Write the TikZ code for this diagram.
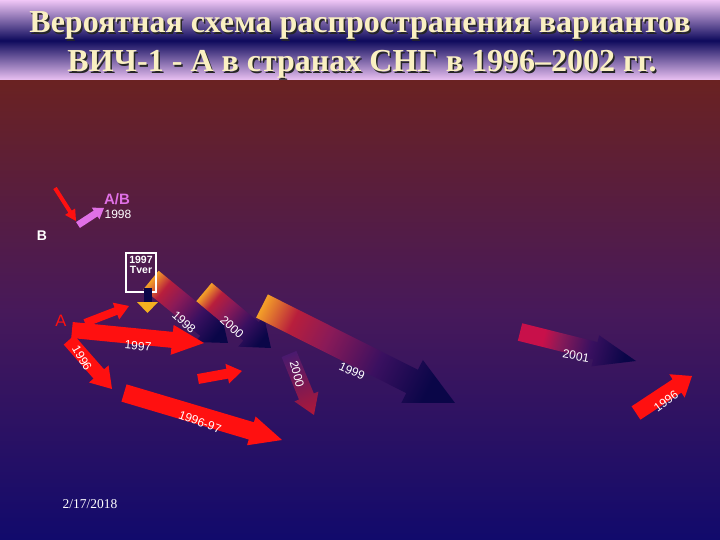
\documentclass[tikz,border=0pt]{standalone}
\usepackage{fontspec}
\setmainfont{Liberation Serif}
\setsansfont{Liberation Sans}
\definecolor{titlepink}{HTML}{F0C6F6}
\definecolor{titlenavy}{HTML}{0E0A5C}
\definecolor{bgtop}{HTML}{6A2222}
\definecolor{bgmid}{HTML}{47195A}
\definecolor{bgbot}{HTML}{110A6C}
\definecolor{titletext}{HTML}{FAF0C2}
\definecolor{gorange}{HTML}{F4A028}
\definecolor{gyellow}{HTML}{F4B020}
\definecolor{gred2}{HTML}{B81E3C}
\definecolor{gmag}{HTML}{8A1A58}
\definecolor{gpurp2}{HTML}{3A1060}
\definecolor{gnavy}{HTML}{0A0648}
\definecolor{gcrim}{HTML}{C8104A}
\definecolor{gpurp}{HTML}{4A1A6E}
\definecolor{gred}{HTML}{B01838}
\definecolor{abpink}{HTML}{E070E6}
\definecolor{ared}{HTML}{FF1010}
\pgfdeclarehorizontalshading{warmsh}{100bp}{color(0bp)=(gorange); color(25bp)=(gorange); color(33bp)=(gred2); color(42bp)=(gmag); color(55bp)=(gpurp2); color(68bp)=(gnavy); color(100bp)=(gnavy)}
\pgfdeclarehorizontalshading{crimsh}{100bp}{color(0bp)=(gcrim); color(25bp)=(gcrim); color(35bp)=(gcrim); color(42bp)=(gmag); color(55bp)=(gpurp2); color(70bp)=(gnavy); color(100bp)=(gnavy)}
\newcommand\fatarr[8]{%
 \pgfmathsetmacro\faang{atan2(#2-#4,#3-#1)}%
 \pgfmathsetmacro\falen{veclen(#3-#1,#4-#2)}%
 \pgfmathsetmacro\fabase{\falen-#7}%
 \begin{scope}[transform canvas={shift={(#1,-#2)},rotate=\faang}]
 \path[#8] (0,-#5) -- (\fabase,-#5) -- (\fabase,-#6) -- (\falen,0) -- (\fabase,#6) -- (\fabase,#5) -- (0,#5) -- cycle;
 \end{scope}}
\tikzset{
 redarrow/.style={fill=ared},
 warm/.style={shade,shading=warmsh},
 lbl/.style={text=white,font=\sffamily\fontsize{12}{13}\selectfont,inner sep=0pt},
 ttl/.style={font=\bfseries\fontsize{32}{36}\selectfont,inner sep=0pt,anchor=base},
}
\begin{document}
\begin{tikzpicture}[x=1pt,y=1pt]
\useasboundingbox (0,0) rectangle (720,-540);
% background
\shade[top color=titlepink,bottom color=titlepink,middle color=titlenavy] (0,0) rectangle (720,-81);
\shade[top color=bgtop,bottom color=bgbot,middle color=bgmid] (0,-81) rectangle (720,-540);
% title
\node[ttl,text=black!85] at (361.5,-34.5) {Вероятная схема распространения вариантов};
\node[ttl,text=titletext] (t1) at (360,-33) {Вероятная схема распространения вариантов};
\node[ttl,text=black!85] at (363.5,-73.5) {ВИЧ-1 - А в странах СНГ в 1996–2002 гг.};
\node[ttl,text=titletext] (t2) at (362,-72) {ВИЧ-1 - А в странах СНГ в 1996–2002 гг.};
% gradient arrows
\fatarr{151}{280}{228}{343}{12}{20}{26}{warm}
\fatarr{204}{292}{271}{348}{12}{20}{26}{warm}
\fatarr{262}{306}{455}{403}{13}{24}{48}{warm}
\fatarr{289}{354}{314}{415}{8}{13}{20}{shade,left color=gpurp,right color=gred}
\fatarr{520}{332}{636}{361}{9}{16}{42}{shade,shading=crimsh}
% Tver box
\draw[white,line width=2.5pt] (126,-253) rectangle (156,-292);
\fill[gnavy] (143.5,-288) rectangle (151.5,-302);
\fill[gyellow] (137,-302) -- (158,-302) -- (147.5,-313) -- cycle;
\node[lbl,font=\sffamily\bfseries\fontsize{10.5}{11}\selectfont,align=center] (tver) at (141,-265) {1997\\[-1pt]Tver};
% red arrows
\fatarr{55}{188}{76}{221}{2}{6}{11}{redarrow}
\fatarr{78}{225}{104}{208}{3.5}{7}{10}{fill=abpink}
\fatarr{85}{323}{129}{306}{4}{9}{14}{redarrow}
\fatarr{72}{330}{204}{343}{8}{15}{32}{redarrow}
\fatarr{69}{340}{112}{389}{7}{13}{20}{redarrow}
\fatarr{198}{379}{242}{371}{5}{10}{15}{redarrow}
\fatarr{124}{393}{282}{440}{9}{15}{32}{redarrow}
\fatarr{636}{413}{692}{376}{8}{14}{18}{redarrow}
% texts
\node[text=abpink,font=\sffamily\bfseries\fontsize{15}{16}\selectfont,inner sep=0pt] (ab) at (117,-199) {A/B};
\node[lbl] (y98a) at (118,-214) {1998};
\node[text=white,font=\sffamily\bfseries\fontsize{14}{15}\selectfont,inner sep=0pt] (b) at (42,-236) {B};
\node[text=ared,font=\sffamily\fontsize{16.5}{17}\selectfont,inner sep=0pt] (a) at (61,-321) {A};
\node[lbl,rotate=-42] (l1998) at (184,-322) {1998};
\node[lbl,rotate=-42] (l2000) at (232,-327) {2000};
\node[lbl,rotate=-75] (l2000b) at (297,-374) {2000};
\node[lbl,rotate=-24] (l1999) at (352,-371) {1999};
\node[lbl,rotate=-10] (l2001) at (576,-356) {2001};
\node[lbl,rotate=36] (l1996r) at (666,-401) {1996};
\node[lbl,rotate=-5] (l1997) at (138,-346) {1997};
\node[lbl,rotate=-60] (l1996) at (82,-358) {1996};
\node[lbl,rotate=-20] (l9697) at (200,-422) {1996-97};
\node[text=white,font=\fontsize{13.5}{14}\selectfont,inner sep=0pt] (date) at (90,-504) {2/17/2018};
\end{tikzpicture}
\end{document}
